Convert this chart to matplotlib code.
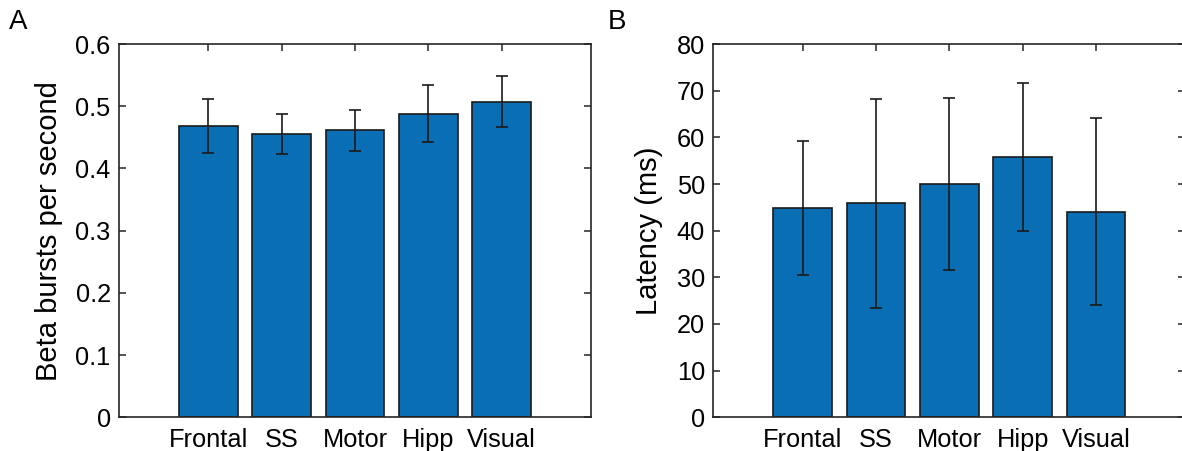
import numpy as np
import matplotlib
matplotlib.use("Agg")
import matplotlib.pyplot as plt

plt.rcParams['font.family'] = ['Liberation Sans', 'DejaVu Sans']

regions = ['Frontal', 'SS', 'Motor', 'Hipp', 'Visual']

# panel A: beta bursts per second
burst_rate = [0.468, 0.455, 0.461, 0.488, 0.5075]
burst_err = [0.043, 0.032, 0.0335, 0.046, 0.041]

# panel B: latency (ms)
latency = [44.9, 45.85, 50.0, 55.76, 44.1]
latency_err = [14.35, 22.4, 18.45, 15.9, 20.1]

bar_color = '#0a6eb4'
fs = 18.3
lab_fs = 21

fig = plt.figure(figsize=(11.82, 4.51), dpi=100)
axA = fig.add_axes([0.1007, 0.0747, 0.3993, 0.8277])
axB = fig.add_axes([0.6035, 0.0747, 0.3993, 0.8277])


def draw(ax, vals, errs, ylim, yticks, ylabel, label_x):
    x = np.arange(1, len(regions) + 1)
    ax.bar(x, vals, width=0.8, color=bar_color, edgecolor='#1a1a1a', linewidth=1.2, zorder=2)
    ax.errorbar(x, vals, yerr=errs, fmt='none', ecolor='#1a1a1a', elinewidth=1.2,
                capsize=4, capthick=1.2, zorder=3)
    ax.set_xlim(3 - 3.215, 3 + 3.215)
    ax.set_ylim(*ylim)
    ax.set_yticks(yticks)
    ax.set_xticks(x)
    ax.set_xticklabels(regions)
    ax.tick_params(direction='in', top=True, right=True, length=5, width=1.1,
                   labelsize=fs, color='#262626', pad=6)
    ax.tick_params(axis='x', pad=8)
    for s in ax.spines.values():
        s.set_linewidth(1.2)
        s.set_color('#262626')
    ax.set_ylabel(ylabel, fontsize=lab_fs)
    ax.yaxis.set_label_coords(label_x, 0.5)


draw(axA, burst_rate, burst_err, (0, 0.6), [0, 0.1, 0.2, 0.3, 0.4, 0.5, 0.6],
     'Beta bursts per second', -0.118)
axA.set_yticklabels(['0', '0.1', '0.2', '0.3', '0.4', '0.5', '0.6'])
draw(axB, latency, latency_err, (0, 80), list(range(0, 81, 10)), 'Latency (ms)', -0.107)

fig.text(9 / 1182, 1 - 29 / 451, 'A', fontsize=20)
fig.text(608 / 1182, 1 - 29 / 451, 'B', fontsize=20)

fig.savefig('out.png', dpi=100)
